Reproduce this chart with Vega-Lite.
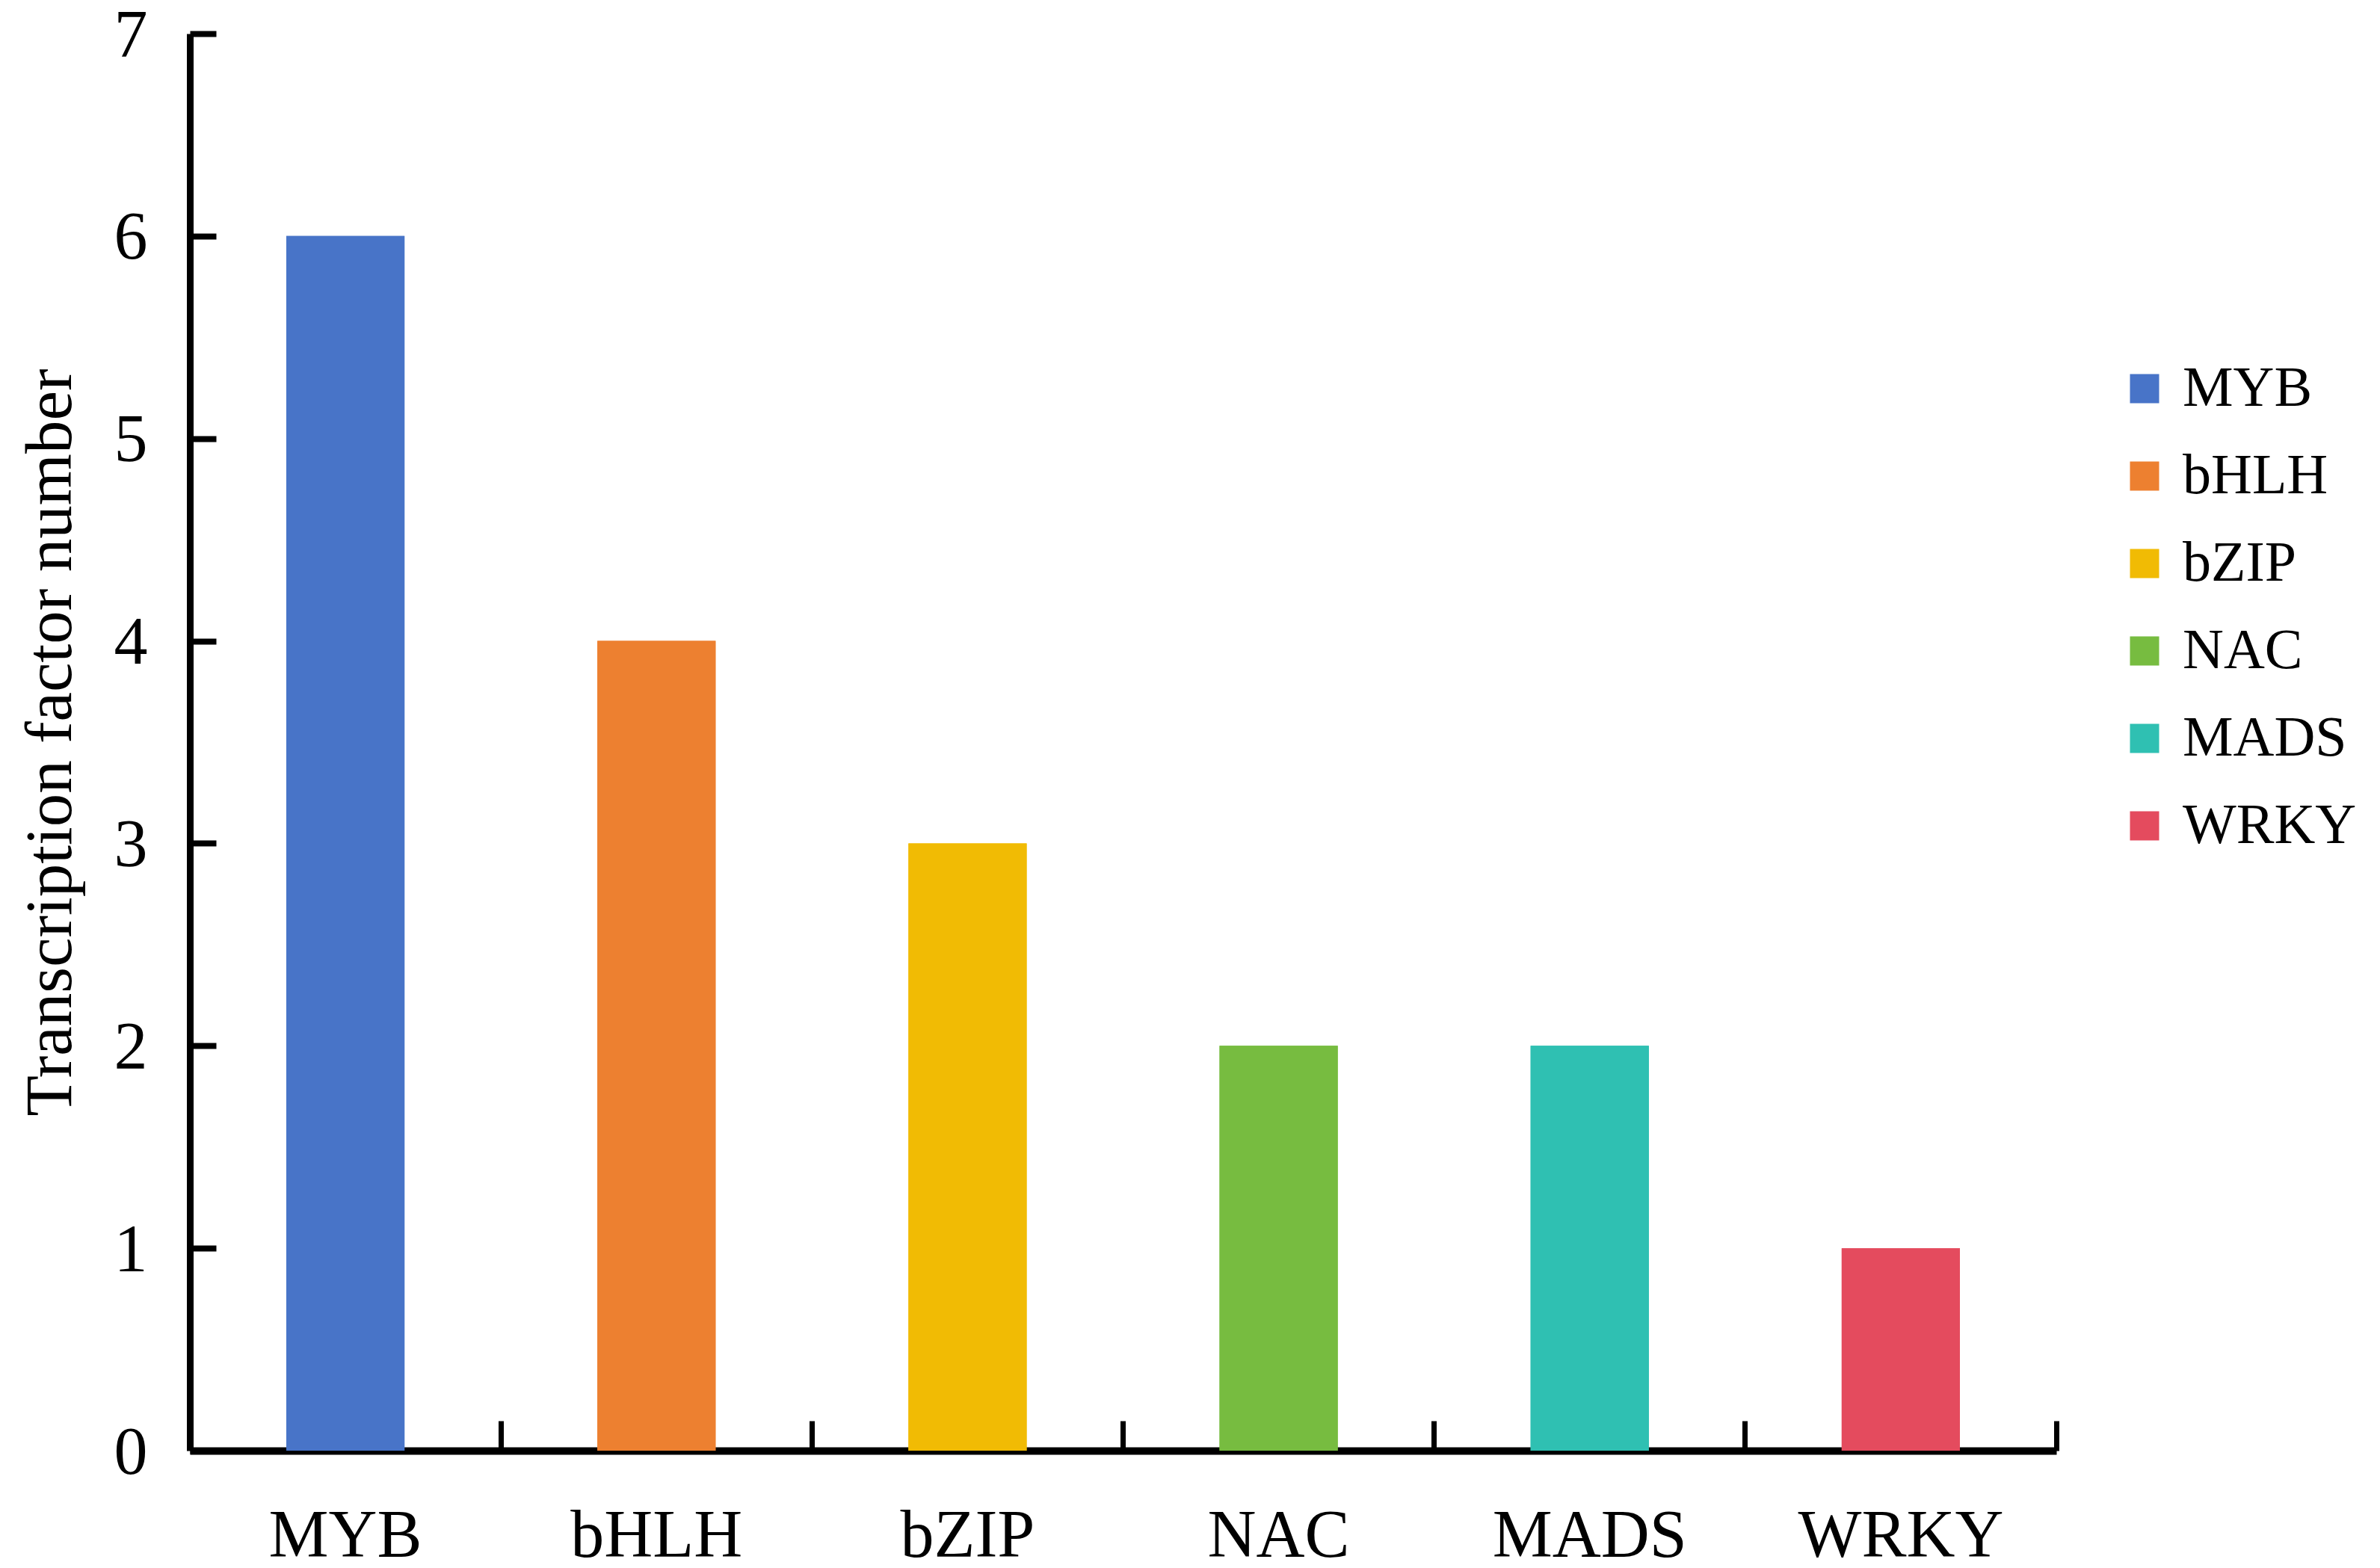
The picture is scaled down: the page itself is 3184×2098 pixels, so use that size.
{
  "$schema": "https://vega.github.io/schema/vega-lite/v6.json",
  "autosize": {"type": "none"},
  "padding": {"left": 254, "top": 45, "right": 433, "bottom": 159},
  "width": 2497,
  "height": 1896,
  "background": "white",
  "config": {
    "view": {"stroke": null},
    "font": "Liberation Serif"
  },
  "data": {
    "values": [
      {"tf": "MYB", "count": 6},
      {"tf": "bHLH", "count": 4},
      {"tf": "bZIP", "count": 3},
      {"tf": "NAC", "count": 2},
      {"tf": "MADS", "count": 2},
      {"tf": "WRKY", "count": 1}
    ]
  },
  "layer": [
    {
      "mark": {"type": "bar", "width": {"band": 0.38}},
      "encoding": {
        "x": {
          "field": "tf", "type": "nominal", "sort": null,
          "scale": {"paddingInner": 0, "paddingOuter": 0},
          "axis": {
            "orient": "bottom", "title": null, "domain": false, "ticks": false,
            "labelAngle": 0, "labelFont": "Liberation Serif", "labelFontSize": 90,
            "labelColor": "black", "labelPadding": 70, "labelBaseline": "top", "labelLimit": 1000
          }
        },
        "y": {
          "field": "count", "type": "quantitative",
          "scale": {"domain": [0, 7], "nice": false},
          "axis": {
            "title": "Transcription factor number",
            "titleFont": "Liberation Serif", "titleFontSize": 89, "titleFontWeight": "normal",
            "titleColor": "black", "titlePadding": 39,
            "values": [0, 1, 2, 3, 4, 5, 6, 7],
            "grid": false, "domainColor": "black", "domainWidth": 9,
            "tickColor": "black", "tickWidth": 8, "tickSize": -35,
            "labelFont": "Liberation Serif", "labelFontSize": 90, "labelColor": "black",
            "labelPadding": 92, "labelOffset": 3
          }
        },
        "color": {
          "field": "tf", "type": "nominal", "sort": null,
          "scale": {
            "domain": ["MYB", "bHLH", "bZIP", "NAC", "MADS", "WRKY"],
            "range": ["#4874C8", "#ED8030", "#F1BB04", "#77BC40", "#2FC0B2", "#E44B5E"]
          },
          "legend": {
            "title": null, "orient": "none", "legendX": 2577, "legendY": 437,
            "symbolType": "square", "symbolSize": 1521, "symbolStrokeWidth": 0,
            "labelFont": "Liberation Serif", "labelFontSize": 76, "labelColor": "black",
            "labelOffset": 13, "rowPadding": 41, "labelLimit": 500
          }
        }
      }
    },
    {
      "mark": {"type": "bar", "width": {"band": 0.38}},
      "encoding": {
        "x": {
          "field": "tf", "type": "nominal", "sort": null,
          "axis": {
            "orient": "bottom", "title": null, "labels": false,
            "domainColor": "black", "domainWidth": 10,
            "tickColor": "black", "tickWidth": 7, "tickSize": -40, "bandPosition": 1
          }
        },
        "y": {
          "field": "count", "type": "quantitative",
          "axis": {
            "title": "Transcription factor number",
            "titleFont": "Liberation Serif", "titleFontSize": 89, "titleFontWeight": "normal",
            "titleColor": "black", "titlePadding": 39,
            "values": [0, 1, 2, 3, 4, 5, 6, 7],
            "grid": false, "domainColor": "black", "domainWidth": 9,
            "tickColor": "black", "tickWidth": 8, "tickSize": -35,
            "labelFont": "Liberation Serif", "labelFontSize": 90, "labelColor": "black",
            "labelPadding": 92, "labelOffset": 3
          }
        },
        "color": {"field": "tf", "type": "nominal", "sort": null, "legend": null}
      }
    }
  ],
  "resolve": {"axis": {"x": "independent"}}
}
